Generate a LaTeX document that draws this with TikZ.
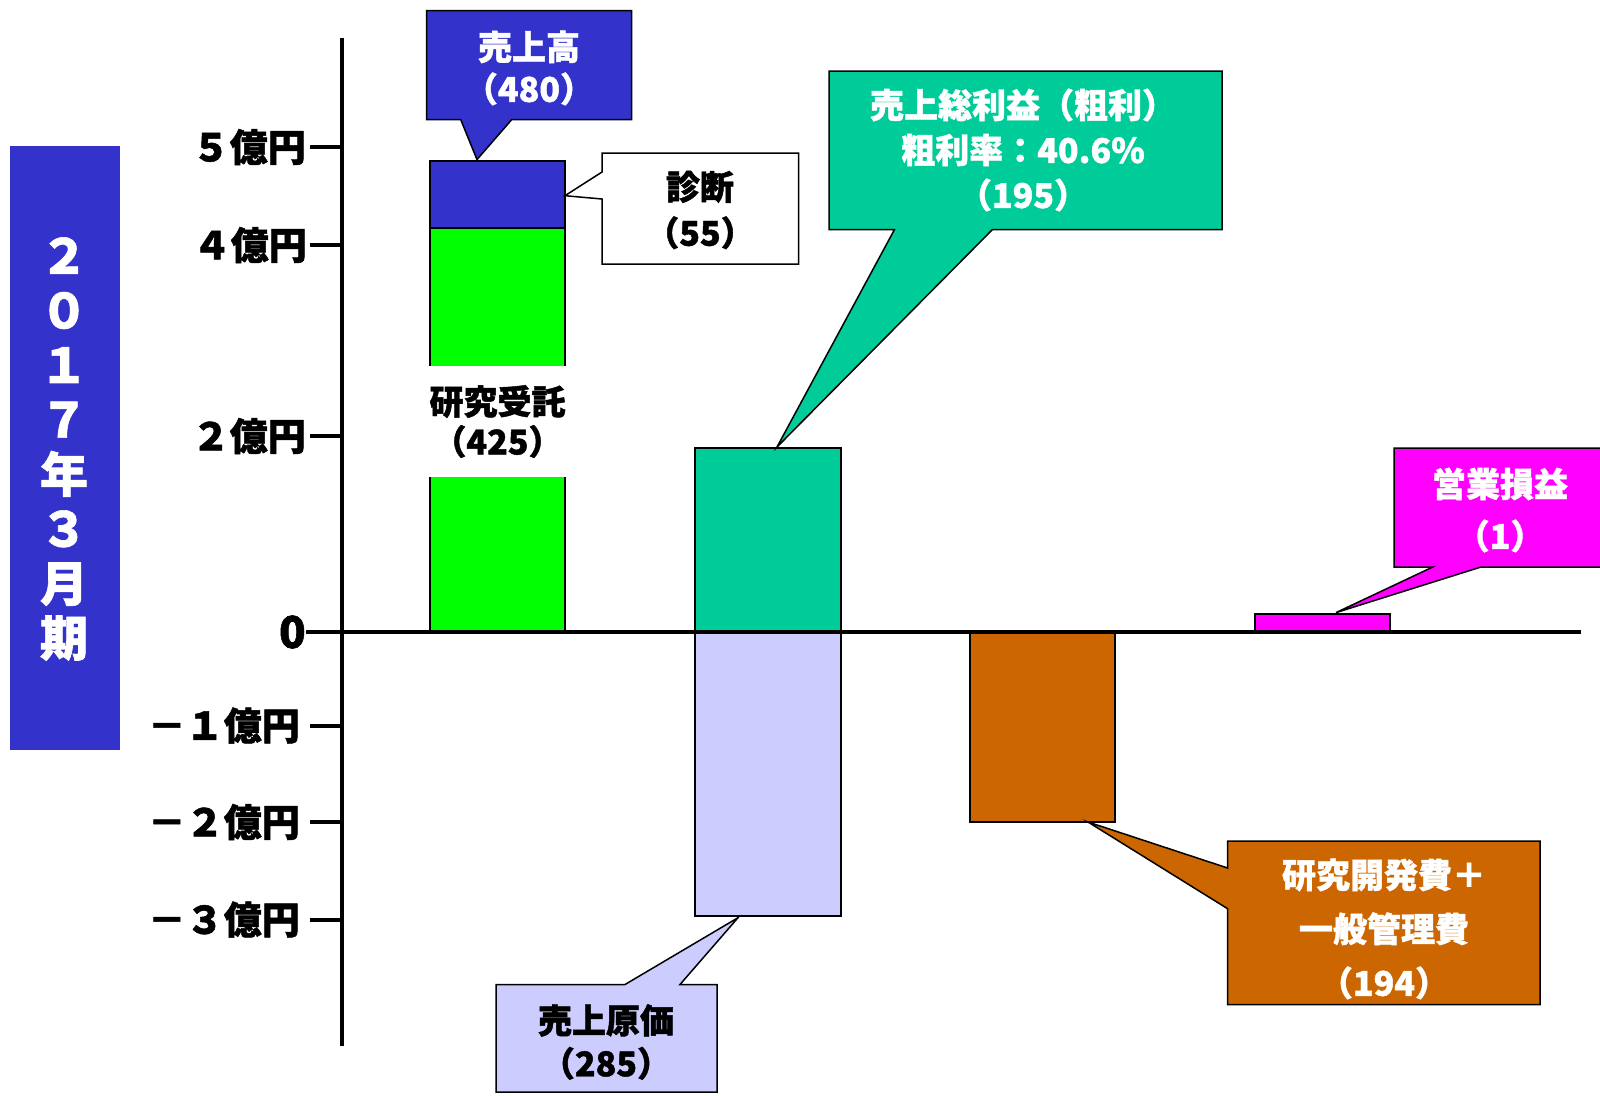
\documentclass[tikz,border=0pt]{standalone}
\usepackage{fontspec}
\setmainfont{Noto Sans CJK JP}[BoldFeatures={FakeBold=1.3}]
\definecolor{cblue}{RGB}{51,51,204}
\definecolor{cgreen}{RGB}{0,255,0}
\definecolor{cteal}{RGB}{0,204,153}
\definecolor{clav}{RGB}{204,204,255}
\definecolor{corange}{RGB}{204,102,0}
\definecolor{cmag}{RGB}{255,0,255}
\tikzset{
  barbox/.style={draw=black,line width=2pt},
  callbox/.style={draw=black,line width=1.5pt,line join=miter},
  axisline/.style={line width=4.5pt},
  ticklbl/.style={font=\bfseries\fontsize{38}{40}\selectfont,anchor=east,inner sep=0pt},
  lbl/.style={font=\bfseries\fontsize{34}{#1}\selectfont,align=center,inner sep=0pt},
}
\begin{document}
\begin{tikzpicture}[x=1pt,y=-1pt]
\useasboundingbox (0,0) rectangle (1600,1095);
% left vertical title
\fill[cblue] (10,146) rectangle (120,750);
\node[font=\bfseries\fontsize{48}{54.6}\selectfont,text=white,align=center,inner sep=0pt] (title) at (64,449) {２\\０\\１\\７\\年\\３\\月\\期};
% bars
\coordinate (diagTL) at (430,160.6);
\coordinate (diagBR) at (565,228);
\coordinate (resTL) at (430,228);
\coordinate (resBR) at (565,632);
\coordinate (grossTL) at (695,448);
\coordinate (grossBR) at (841,632);
\coordinate (costTL) at (695,632);
\coordinate (costBR) at (841,916);
\coordinate (sgaTL) at (970,633);
\coordinate (sgaBR) at (1115,822);
\coordinate (opTL) at (1255,614);
\coordinate (opBR) at (1390,632);
\draw[barbox,fill=cgreen] (resTL) rectangle (resBR);
\draw[barbox,fill=cblue] (diagTL) rectangle (diagBR);
\draw[barbox,fill=cteal] (grossTL) rectangle (grossBR);
\draw[barbox,fill=clav] (costTL) rectangle (costBR);
\draw[barbox,fill=corange] (sgaTL) rectangle (sgaBR);
\draw[barbox,fill=cmag] (opTL) rectangle (opBR);
% axes
\coordinate (ytop) at (342,38);
\coordinate (ybot) at (342,1046);
\coordinate (zl) at (306,632);
\coordinate (zr) at (1581,632);
\draw[axisline] (ytop) -- (ybot);
\draw[axisline] (zl) -- (zr);
% ticks
\foreach \y/\t/\r in {147/５億円/306, 245/４億円/307, 436/２億円/306, 725.5/－１億円/300, 822/－２億円/300, 919.5/－３億円/300}{
  \draw[line width=4pt] (310,\y) -- (342,\y);
  \node[ticklbl] at (\r,\y) {\t};
}
\node[ticklbl,font=\bfseries\fontsize{44}{44}\selectfont] (zero) at (306,632) {0};
% research label over green bar
\node[lbl=40,fill=white,minimum width=150pt,minimum height=111pt] (reslbl) at (497.5,421.5) {研究受託\\（425）};
% callout: sales
\coordinate (salestip) at (477,159.6);
\draw[callbox,fill=cblue] (426.5,10.5) -- (631.6,10.5) -- (631.6,119.6) -- (511.7,119.6) -- (salestip) -- (460.7,119.6) -- (426.5,119.6) -- cycle;
\node[lbl=42,text=white] (sales) at (529,68) {売上高\\（480）};
% callout: diagnosis
\coordinate (diagtip) at (565,195.7);
\draw[callbox,fill=white] (602,153) -- (798.5,153) -- (798.5,264) -- (602,264) -- (602,199) -- (diagtip) -- (602,172) -- cycle;
\node[lbl=46] (diag) at (700,210) {診断\\（55）};
% callout: gross profit
\coordinate (grosstip) at (777,447);
\draw[callbox,fill=cteal] (829,71) -- (1222,71) -- (1222,229.7) -- (992.3,229.7) -- (grosstip) -- (894.4,229.7) -- (829,229.7) -- cycle;
\node[lbl=45,text=white] (gross) at (1023,150) {売上総利益（粗利）\\粗利率：40.6\%\\（195）};
% callout: operating income
\coordinate (optip) at (1336,612.6);
\draw[callbox,fill=cmag] (1394,448) -- (1603,448) -- (1603,567) -- (1481,567) -- (optip) -- (1432.7,567) -- (1394,567) -- cycle;
\node[lbl=52,text=white] (op) at (1500,510) {営業損益\\（1）};
% callout: cost of sales
\coordinate (costtip) at (738,917.7);
\draw[callbox,fill=clav] (496,984.5) -- (625,984.5) -- (costtip) -- (680,984.5) -- (717,984.5) -- (717,1092) -- (496,1092) -- cycle;
\node[lbl=43] (cost) at (606,1042) {売上原価\\（285）};
% callout: R&D + SG&A
\coordinate (sgatip) at (1088,822);
\draw[callbox,fill=corange] (1227.6,841) -- (1540,841) -- (1540,1004.6) -- (1227.6,1004.6) -- (1227.6,908.7) -- (sgatip) -- (1227.6,868) -- cycle;
\node[lbl=54,text=white] (sga) at (1384,929) {研究開発費＋\\一般管理費\\（194）};
\end{tikzpicture}
\end{document}
